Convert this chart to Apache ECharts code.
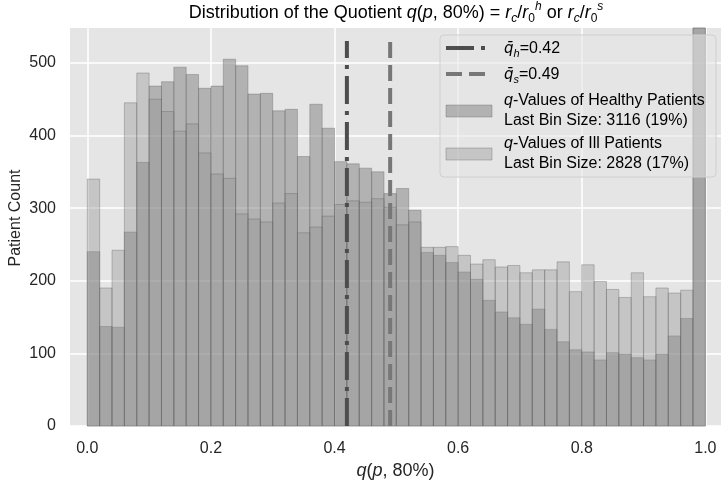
<!DOCTYPE html>
<html>
<head>
<meta charset="utf-8">
<script src="https://cdn.jsdelivr.net/npm/echarts@6/dist/echarts.min.js"></script>
<style>html,body{margin:0;padding:0;background:#fff}#c{width:721px;height:481px}</style>
</head>
<body>
<div id="c"></div>
<script>
// ---- data ----
const binWidth = 0.02;
const healthy = [240,137,136,267,363,468,474,494,484,465,468,505,496,457,458,434,436,371,443,410,364,361,355,350,320,327,297,239,235,225,212,202,173,157,149,140,161,133,116,105,102,91,101,99,94,91,99,124,148,3116];
const ill     = [340,190,242,445,486,450,433,406,416,376,347,341,292,285,281,307,320,266,274,289,305,310,308,313,301,277,281,246,246,247,235,223,229,219,221,211,215,215,226,185,222,199,188,177,211,178,190,183,187,2828];
const meanHealthy = 0.42;
const meanIll = 0.49;
const meanLineTop = 530;
const xTicks = [0, 0.2, 0.4, 0.6, 0.8, 1.0];
const yTicks = [0, 100, 200, 300, 400, 500];

const FONT = 'Liberation Sans';
const TXT = '#262626';
const healthyFill = 'rgba(128,128,128,0.5)';
const illFill = 'rgba(146,146,146,0.385)';

function binData(arr){ return arr.map((v,i)=>[i*binWidth,(i+1)*binWidth,v]); }

function makeRender(fill){
  return function(params, api){
    const p1 = api.coord([api.value(0), api.value(2)]);
    const p0 = api.coord([api.value(1), 0]);
    const rect = {x:p1[0], y:p1[1], width:p0[0]-p1[0], height:p0[1]-p1[1]};
    const cs = params.coordSys;
    const clipped = echarts.graphic.clipRectByRect(rect, {x:cs.x, y:cs.y, width:cs.width, height:cs.height});
    if (!clipped) return;
    return {type:'rect', shape:clipped, style:{fill:fill, stroke:'rgba(95,95,95,0.35)', lineWidth:1}};
  };
}

const italic = {fontFamily:FONT, fontStyle:'italic', fontSize:18, color:TXT, lineHeight:24};
const normal = {fontFamily:FONT, fontSize:18, color:TXT, lineHeight:24};
const sub = {fontFamily:FONT, fontStyle:'italic', fontSize:12, color:TXT, lineHeight:12, verticalAlign:'bottom'};
const subN = {fontFamily:FONT, fontSize:12, color:TXT, lineHeight:12, verticalAlign:'bottom'};
const sup = {fontFamily:FONT, fontStyle:'italic', fontSize:12, color:TXT, lineHeight:12, verticalAlign:'top'};

const chart = echarts.init(document.getElementById('c'), null, {renderer:'canvas'});

const legItalic = {fontFamily:FONT, fontStyle:'italic', fontSize:16, color:TXT, lineHeight:20};
const legBar = {fontFamily:'DejaVu Sans', fontStyle:'italic', fontSize:15, color:TXT, lineHeight:20};
const legNormal = {fontFamily:FONT, fontSize:16, color:TXT, lineHeight:20};
const legSub = {fontFamily:FONT, fontStyle:'italic', fontSize:11, color:TXT, lineHeight:10, verticalAlign:'bottom'};

const LX = 440, LY = 35;
chart.setOption({
  backgroundColor:'#ffffff',
  animation:false,
  grid:{left:70, right:0, top:28, bottom:55, show:true, backgroundColor:'#e5e5e5', borderWidth:0, outerBoundsMode:'none', containLabel:false},
  xAxis:{
    type:'value', min:-0.028, max:1.0253,
    axisLine:{show:false}, axisTick:{show:false, customValues:xTicks},
    axisLabel:{customValues:xTicks, formatter:v=>v.toFixed(1), fontFamily:FONT, fontSize:16, color:TXT, margin:15},
    splitLine:{show:true, lineStyle:{color:'#ffffff', width:1.5}},
    name:'{i|q}{n|(}{i|p}{n|, 80%)}', nameLocation:'middle', nameGap:31,
    nameTextStyle:{rich:{i:italic, n:normal}}
  },
  yAxis:{
    type:'value', min:0, max:548,
    axisLine:{show:false}, axisTick:{show:false, customValues:yTicks},
    axisLabel:{customValues:yTicks, fontFamily:FONT, fontSize:16, color:TXT, margin:14},
    splitLine:{show:true, lineStyle:{color:'#ffffff', width:1.5}}
  },
  series:[
    {type:'custom', name:'healthy', data:binData(healthy), encode:{x:[0,1], y:2}, renderItem:makeRender(healthyFill), z:2},
    {type:'custom', name:'ill', data:binData(ill), encode:{x:[0,1], y:2}, renderItem:makeRender(illFill), z:3},
    {type:'line', data:[[meanHealthy,0],[meanHealthy,meanLineTop]], showSymbol:false, symbol:'none', z:5,
      lineStyle:{color:'#4d4d4d', width:4, type:[28,7,4,7]}},
    {type:'line', data:[[meanIll,0],[meanIll,meanLineTop]], showSymbol:false, symbol:'none', z:5,
      lineStyle:{color:'#777777', width:4, type:[16,7]}}
  ],
  graphic:[
    {type:'text', x:396, y:13, z:100, style:{
      text:'{n|Distribution of the Quotient }{i|q}{n|(}{i|p}{n|, 80%) = }{i|r}{sub|c}{n|/}{i|r}{subN|0}{sup|h}{n| or }{i|r}{sub|c}{n|/}{i|r}{subN|0}{sup|s}',
      rich:{n:normal, i:italic, sub:sub, subN:subN, sup:sup},
      align:'center', verticalAlign:'middle'}},
    {type:'text', x:16, y:218, rotation:Math.PI/2, z:100, style:{
      text:'Patient Count', fontFamily:FONT, fontSize:16, fill:TXT, align:'center', verticalAlign:'middle'}},
    {type:'rect', z:100, shape:{x:LX, y:LY, width:276, height:142, r:4},
      style:{fill:'rgba(229,229,229,0.55)', stroke:'#cfcfcf', lineWidth:1}},
    {type:'line', z:101, shape:{x1:446, y1:48, x2:487, y2:48},
      style:{stroke:'#4d4d4d', lineWidth:4, lineDash:[28,7,4,7]}},
    {type:'line', z:101, shape:{x1:446, y1:74, x2:487, y2:74},
      style:{stroke:'#777777', lineWidth:4, lineDash:[16,7]}},
    {type:'rect', z:101, shape:{x:446, y:105, width:46, height:12},
      style:{fill:healthyFill, stroke:'rgba(95,95,95,0.35)', lineWidth:1}},
    {type:'rect', z:101, shape:{x:446, y:148, width:46, height:12},
      style:{fill:illFill, stroke:'rgba(95,95,95,0.35)', lineWidth:1}},
    {type:'text', z:101, x:504, y:49, style:{text:'{q|q\u0304}{s|h}{n|=0.42}', rich:{q:legBar, s:legSub, n:legNormal}, verticalAlign:'middle'}},
    {type:'text', z:101, x:504, y:75, style:{text:'{q|q\u0304}{s|s}{n|=0.49}', rich:{q:legBar, s:legSub, n:legNormal}, verticalAlign:'middle'}},
    {type:'text', z:101, x:504, y:111, style:{text:'{i|q}{n|-Values of Healthy Patients}\n{n|Last Bin Size: 3116 (19%)}', rich:{i:legItalic, n:legNormal}, verticalAlign:'middle'}},
    {type:'text', z:101, x:504, y:154, style:{text:'{i|q}{n|-Values of Ill Patients}\n{n|Last Bin Size: 2828 (17%)}', rich:{i:legItalic, n:legNormal}, verticalAlign:'middle'}}
  ]
});
</script>
</body>
</html>
